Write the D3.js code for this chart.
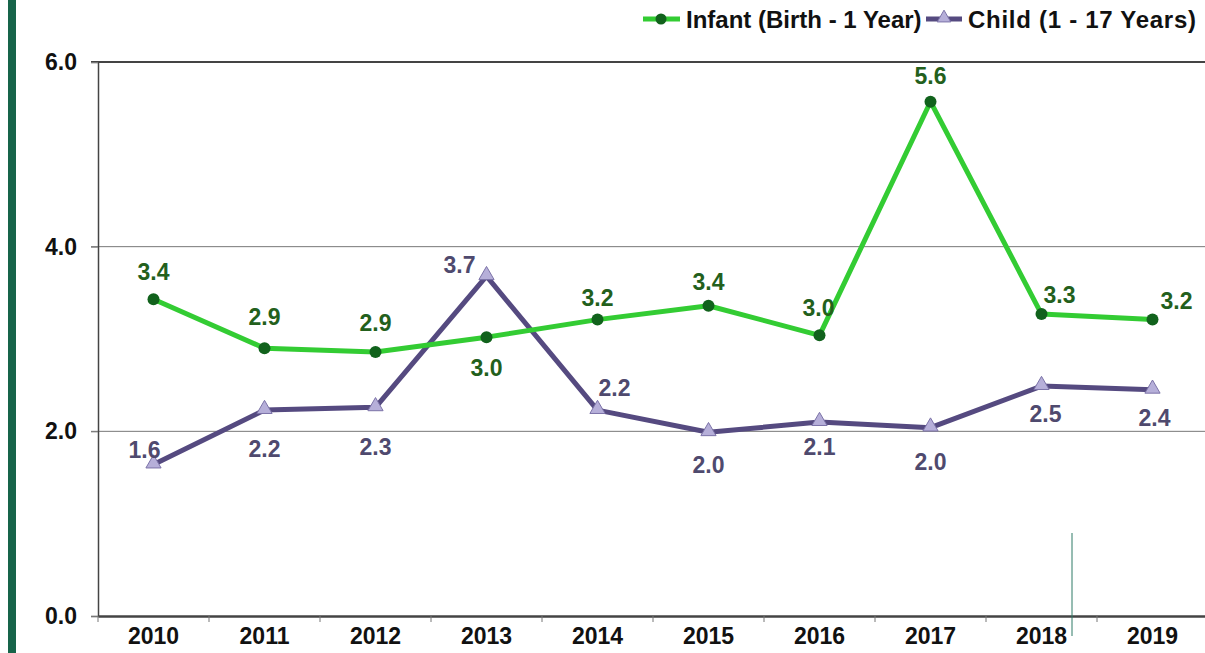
<!DOCTYPE html>
<html>
<head>
<meta charset="utf-8">
<script src="https://cdn.jsdelivr.net/npm/d3@7"></script>
<style>
  body { margin: 0; background: #fff; }
  text { font-family: "Liberation Sans", Arial, sans-serif; font-weight: bold; }
</style>
</head>
<body>
<svg id="chart" width="1205" height="653"></svg>
<script>
// years and the two series
const years = ["2010","2011","2012","2013","2014","2015","2016","2017","2018","2019"]
const infant = [3.43, 2.90, 2.86, 3.02, 3.21, 3.36, 3.04, 5.57, 3.27, 3.21]
const child = [1.64, 2.23, 2.26, 3.68, 2.23, 1.99, 2.10, 2.04, 2.49, 2.45]
const infantLabels = ["3.4","2.9","2.9","3.0","3.2","3.4","3.0","5.6","3.3","3.2"]
const childLabels = ["1.6","2.2","2.3","3.7","2.2","2.0","2.1","2.0","2.5","2.4"]
const yTicks = [0, 2, 4, 6]

// label offsets relative to the point [dx, dy to baseline]
const infantOff = [[0,-19],[0,-23],[0,-21],[0,39],[0,-14],[0,-16],[-1,-19],[0,-18],[18,-11],[24,-11]]
const childOff = [[-9,-7],[0,47],[0,48],[-27,-3],[17,-14],[0,41],[0,33],[0,42],[4,36],[2,36]]

const svg = d3.select("#chart")
const m = {left: 98, top: 62, right: 1208, bottom: 616}
const fs = 23

const x = d3.scaleBand().domain(years).range([m.left, m.right])
const y = d3.scaleLinear().domain([0, 6]).range([m.bottom, m.top])

// the dark green strip down the left edge
svg.append("rect").attr("x", 8).attr("y", 0).attr("width", 8).attr("height", 653).attr("fill", "#17644a")

// gridlines
svg.append("g")
  .selectAll("line")
  .data(yTicks.filter(d => d > 0 && d < 6))
  .enter().append("line")
  .attr("x1", m.left - 7).attr("x2", 1205)
  .attr("y1", d => y(d)).attr("y2", d => y(d))
  .attr("stroke", "#777").attr("stroke-width", 1)

// top border
svg.append("line").attr("x1", m.left - 7).attr("x2", 1205)
  .attr("y1", y(6)).attr("y2", y(6)).attr("stroke", "#444").attr("stroke-width", 2)

// y axis
const yAxis = svg.append("g").attr("transform", `translate(${m.left},0)`)
  .call(d3.axisLeft(y).tickValues(yTicks).tickFormat(d3.format(".1f")).tickSize(7).tickPadding(14))
yAxis.select(".domain").attr("stroke", "#444").attr("stroke-width", 1.5)
yAxis.selectAll(".tick line").attr("stroke", "#777")
yAxis.selectAll("text").attr("font-size", fs).attr("fill", "#111")

// x axis
const xAxis = svg.append("g").attr("transform", `translate(0,${m.bottom})`)
  .call(d3.axisBottom(x).tickSize(0).tickPadding(12))
xAxis.select(".domain").attr("stroke", "#444").attr("stroke-width", 2.5)
xAxis.selectAll("text").attr("font-size", fs).attr("fill", "#111")
xAxis.append("g").selectAll("line")
  .data(years)
  .enter().append("line")
  .attr("x1", d => x(d)).attr("x2", d => x(d))
  .attr("y1", 0).attr("y2", 6).attr("stroke", "#777")

// stray vertical rule near 2018
svg.append("line").attr("x1", 1072).attr("x2", 1072).attr("y1", 533).attr("y2", 636)
  .attr("stroke", "#2f7a66").attr("stroke-width", 1)

const cx = i => x(years[i]) + x.bandwidth() / 2
const line = d3.line().x((d, i) => cx(i)).y(d => y(d))

// child series
svg.append("path").datum(child).attr("d", line)
  .attr("fill", "none").attr("stroke", "#554a80").attr("stroke-width", 5).attr("stroke-linejoin", "round")
svg.append("g").selectAll("path")
  .data(child).enter().append("path")
  .attr("d", d3.symbol().type(d3.symbolTriangle).size(100))
  .attr("transform", (d, i) => `translate(${cx(i)},${y(d) - 1})`)
  .attr("fill", "#b6afd9").attr("stroke", "#7c73a8").attr("stroke-width", 1)

// infant series
svg.append("path").datum(infant).attr("d", line)
  .attr("fill", "none").attr("stroke", "#33cc33").attr("stroke-width", 5).attr("stroke-linejoin", "round")
svg.append("g").selectAll("circle")
  .data(infant).enter().append("circle")
  .attr("cx", (d, i) => cx(i)).attr("cy", d => y(d)).attr("r", 6)
  .attr("fill", "#11621c")

// value labels
svg.append("g").selectAll("text")
  .data(infant).enter().append("text")
  .attr("x", (d, i) => cx(i) + infantOff[i][0])
  .attr("y", (d, i) => y(d) + infantOff[i][1])
  .attr("text-anchor", "middle").attr("font-size", fs).attr("fill", "#23601c")
  .text((d, i) => infantLabels[i])

svg.append("g").selectAll("text")
  .data(child).enter().append("text")
  .attr("x", (d, i) => cx(i) + childOff[i][0])
  .attr("y", (d, i) => y(d) + childOff[i][1])
  .attr("text-anchor", "middle").attr("font-size", fs).attr("fill", "#4f4a6e")
  .text((d, i) => childLabels[i])

// legend
const legend = svg.append("g").attr("transform", "translate(0,19)")
legend.append("line").attr("x1", 643).attr("x2", 680).attr("y1", 0).attr("y2", 0)
  .attr("stroke", "#33cc33").attr("stroke-width", 5)
legend.append("circle").attr("cx", 661).attr("cy", 0).attr("r", 5.5).attr("fill", "#11621c")
legend.append("text").attr("x", 686).attr("y", 9).attr("font-size", 24).attr("fill", "#111")
  .text("Infant (Birth - 1 Year)")
legend.append("line").attr("x1", 926).attr("x2", 962).attr("y1", 0).attr("y2", 0)
  .attr("stroke", "#554a80").attr("stroke-width", 5)
legend.append("path").attr("d", d3.symbol().type(d3.symbolTriangle).size(80))
  .attr("transform", "translate(944,-1)")
  .attr("fill", "#b6afd9").attr("stroke", "#7c73a8").attr("stroke-width", 1)
legend.append("text").attr("x", 968).attr("y", 9).attr("font-size", 24).attr("fill", "#111")
  .attr("textLength", 228).attr("lengthAdjust", "spacing")
  .text("Child (1 - 17 Years)")
</script>
</body>
</html>
